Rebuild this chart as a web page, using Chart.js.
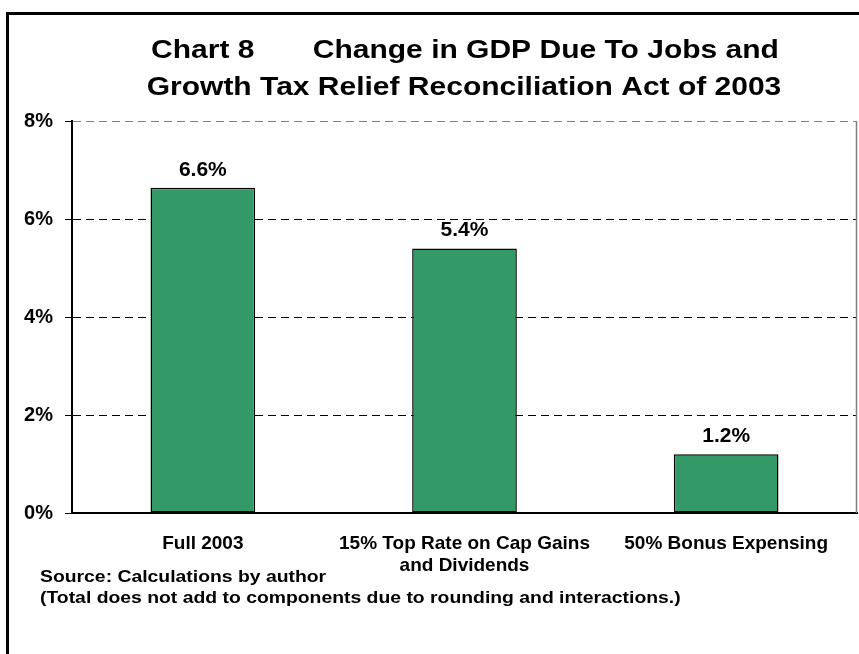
<!DOCTYPE html>
<html>
<head>
<meta charset="utf-8">
<script src="https://cdn.jsdelivr.net/npm/chart.js@4.4.1/dist/chart.umd.min.js"></script>
<style>
  html, body { margin: 0; padding: 0; background: #ffffff; }
  #wrap { position: relative; width: 859px; height: 654px; }
</style>
</head>
<body>
<div id="wrap"><canvas id="c" width="859" height="654"></canvas></div>
<script>
// ---- data ----
const categories = [
  ['Full 2003'],
  ['15% Top Rate on Cap Gains', 'and Dividends'],
  ['50% Bonus Expensing']
];
const gdpChange = [6.64, 5.40, 1.20];
const yTicks = [0, 2, 4, 6, 8];
const titleLines = [
  'Chart 8       Change in GDP Due To Jobs and',
  'Growth Tax Relief Reconciliation Act of 2003'
];
const footnotes = [
  'Source: Calculations by author',
  '(Total does not add to components due to rounding and interactions.)'
];

const FONT = '"Liberation Sans", Arial, Helvetica, sans-serif';

function drawStretched(ctx, text, x, y, sx, align) {
  ctx.save();
  ctx.translate(x, y);
  ctx.scale(sx, 1);
  ctx.textAlign = align;
  ctx.fillText(text, 0, 0);
  ctx.restore();
}

const decorPlugin = {
  id: 'decor',
  beforeDraw(chart) {
    const ctx = chart.ctx;
    ctx.save();
    ctx.fillStyle = '#ffffff';
    ctx.fillRect(0, 0, chart.width, chart.height);
    ctx.fillStyle = '#000000';
    ctx.fillRect(6, 12, 3, chart.height - 12);
    ctx.fillRect(6, 12, chart.width - 6, 3);
    // title
    ctx.font = 'bold 25px ' + FONT;
    ctx.textBaseline = 'middle';
    drawStretched(ctx, titleLines[0], 465, 51, 1.2, 'center');
    drawStretched(ctx, titleLines[1], 464, 88, 1.2, 'center');
    // footnotes
    ctx.font = 'bold 16px ' + FONT;
    drawStretched(ctx, footnotes[0], 40, 578, 1.21, 'left');
    drawStretched(ctx, footnotes[1], 40, 599, 1.21, 'left');
    ctx.restore();
  },
  afterDatasetsDraw(chart) {
    const ctx = chart.ctx;
    const area = chart.chartArea;
    ctx.save();
    // right border of plot
    ctx.strokeStyle = '#808080';
    ctx.lineWidth = 1.5;
    ctx.beginPath();
    ctx.moveTo(area.right - 0.5, area.top);
    ctx.lineTo(area.right - 0.5, area.bottom);
    ctx.stroke();
    // value labels
    const meta = chart.getDatasetMeta(0);
    ctx.font = 'bold 20px ' + FONT;
    ctx.fillStyle = '#000';
    ctx.textBaseline = 'alphabetic';
    meta.data.forEach((bar, i) => {
      drawStretched(ctx, gdpChange[i].toFixed(1) + '%', bar.x, bar.y - 12, 1.05, 'center');
    });
    ctx.restore();
  }
};

new Chart(document.getElementById('c'), {
  type: 'bar',
  data: {
    labels: categories,
    datasets: [{
      data: gdpChange,
      backgroundColor: '#339966',
      borderColor: '#000000',
      borderWidth: 1.5,
      borderSkipped: false,
      barPercentage: 0.4,
      categoryPercentage: 1.0
    }]
  },
  options: {
    responsive: false,
    animation: false,
    events: [],
    layout: { padding: { top: 121, right: 2, left: 0, bottom: 0 } },
    plugins: {
      legend: { display: false },
      title: { display: false },
      tooltip: { enabled: false }
    },
    scales: {
      x: {
        grid: { display: false, drawTicks: false },
        border: { display: true, color: '#000000', width: 2 },
        ticks: {
          color: '#000',
          font: { family: FONT, size: 19, weight: 'bold', lineHeight: 1.15 },
          padding: 20,
          maxRotation: 0,
          autoSkip: false
        },
        afterFit(scale) { scale.height = 654 - 513; }
      },
      y: {
        min: 0,
        max: 8,
        afterBuildTicks(scale) { scale.ticks = yTicks.map(v => ({ value: v })); },
        grid: {
          color: (c) => (c.tick && c.tick.value === 8) ? '#808080' : (c.tick && c.tick.value === 0 ? 'rgba(0,0,0,0)' : '#000000'),
          lineWidth: 1,
          tickLength: 7,
          tickColor: '#000000',
          tickWidth: 1,
          tickBorderDash: []
        },
        border: { display: true, color: '#000000', width: 2, dash: [8, 5] },
        ticks: {
          color: '#000',
          font: { family: FONT, size: 20, weight: 'bold' },
          padding: 12,
          callback: (v) => v + '%'
        },
        afterFit(scale) { scale.width = 72; }
      }
    }
  },
  plugins: [decorPlugin]
});
</script>
</body>
</html>
